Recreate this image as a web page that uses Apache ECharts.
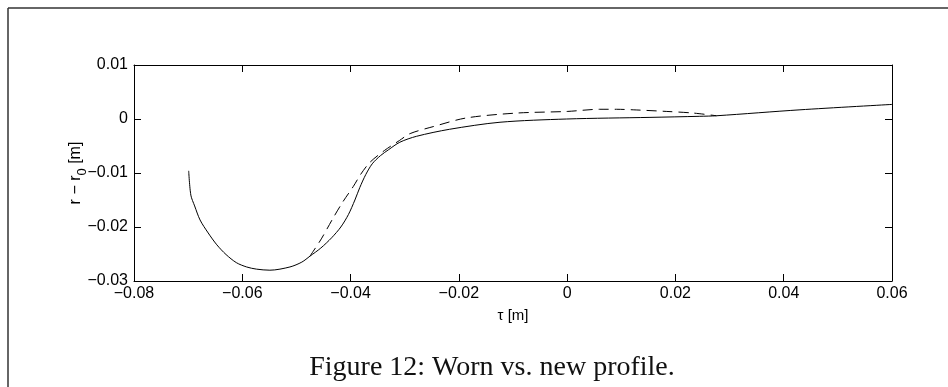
<!DOCTYPE html>
<html>
<head>
<meta charset="utf-8">
<script src="https://cdn.jsdelivr.net/npm/echarts@6/dist/echarts.min.js"></script>
<style>
  html, body { margin: 0; padding: 0; background: #fff; }
  #chart { width: 948px; height: 387px; }
</style>
</head>
<body>
<div id="chart"></div>
<script>
// new profile (solid)
var newX = [-0.0699, -0.0695, -0.0688, -0.0678, -0.0663, -0.0647, -0.0630, -0.0611, -0.0592, -0.0574,
            -0.0549, -0.0512, -0.0490, -0.0475, -0.0455, -0.0435, -0.0418, -0.0404, -0.0392, -0.0383,
            -0.0372, -0.0360, -0.0345, -0.0330, -0.0309, -0.0278, -0.0217, -0.0124, -0.0001, 0.0153,
            0.0245, 0.0276, 0.0430, 0.0600];
var newY = [-0.0096, -0.0141, -0.0161, -0.0187, -0.0211, -0.0233, -0.0251, -0.0266, -0.0274, -0.0278,
            -0.0280, -0.0274, -0.0265, -0.0254, -0.0239, -0.0220, -0.0200, -0.0177, -0.0150, -0.0127,
            -0.0103, -0.0083, -0.0068, -0.0057, -0.0043, -0.0032, -0.0019, -0.0006, 0.0000, 0.0003,
            0.0005, 0.0006, 0.0017, 0.0027];
// worn profile (dashed), only where it leaves the solid line
var wornX = [-0.0475, -0.0469, -0.0454, -0.0432, -0.0414, -0.0395, -0.0381, -0.0364, -0.0337, -0.0310,
             -0.0290, -0.0247, -0.0186, -0.0093, 0.0000, 0.0060, 0.0091, 0.0122, 0.0184, 0.0233, 0.0276];
var wornY = [-0.0254, -0.0245, -0.0222, -0.0183, -0.0153, -0.0125, -0.0102, -0.0080, -0.0058, -0.0040,
             -0.0027, -0.0014, 0.0002, 0.0011, 0.0014, 0.0018, 0.0018, 0.0017, 0.0014, 0.0011, 0.0006];

var xTicks = { min: -0.08, max: 0.06, step: 0.02 };
var yTicks = { min: -0.03, max: 0.01, step: 0.01 };

function pairs(xs, ys) {
  var out = [];
  for (var i = 0; i < xs.length; i++) out.push([xs[i], ys[i]]);
  return out;
}
function fmt(v) {
  if (Math.abs(v) < 1e-9) return '0';
  var s = Math.abs(v).toFixed(2);
  return (v < 0 ? '\u2212' : '') + s;
}

var font = 'Liberation Sans, Arial, sans-serif';
var axisBase = {
  axisLine: { show: true, onZero: false, lineStyle: { color: '#000', width: 1 } },
  axisTick: { show: true, inside: true, length: 7, lineStyle: { color: '#000', width: 1 } },
  splitLine: { show: false }
};

var myChart = echarts.init(document.getElementById('chart'));
var option = {
  animation: false,
  backgroundColor: '#fff',
  grid: { left: 134, top: 65, right: 56, bottom: 106, containLabel: false },
  xAxis: [
    Object.assign({
      type: 'value', position: 'bottom',
      min: xTicks.min, max: xTicks.max, interval: xTicks.step,
      name: '\u03c4 [m]', nameLocation: 'middle', nameGap: 27, nameMoveOverlap: false,
      nameTextStyle: { fontFamily: font, fontSize: 15, color: '#000' },
      axisLabel: { margin: 5, fontFamily: font, fontSize: 16, color: '#000', formatter: fmt }
    }, axisBase),
    Object.assign({
      type: 'value', position: 'top',
      min: xTicks.min, max: xTicks.max, interval: xTicks.step,
      axisLabel: { show: false }
    }, axisBase)
  ],
  yAxis: [
    Object.assign({
      type: 'value', position: 'left',
      min: yTicks.min, max: yTicks.max, interval: yTicks.step,
      name: '{a|r \u2212 r}{s|0}{a| [m]}', nameLocation: 'middle', nameGap: 45, nameMoveOverlap: false,
      nameTextStyle: {
        fontFamily: font, fontSize: 16, color: '#000',
        rich: {
          a: { fontFamily: font, fontSize: 16, color: '#000', lineHeight: 26, verticalAlign: 'middle' },
          s: { fontFamily: font, fontSize: 13, color: '#000', lineHeight: 26, verticalAlign: 'bottom' }
        }
      },
      axisLabel: { margin: 6, fontFamily: font, fontSize: 16, color: '#000', formatter: fmt }
    }, axisBase),
    Object.assign({
      type: 'value', position: 'right',
      min: yTicks.min, max: yTicks.max, interval: yTicks.step,
      axisLabel: { show: false }
    }, axisBase)
  ],
  graphic: [
    { type: 'line', shape: { x1: 8, y1: 8, x2: 948, y2: 8 }, style: { stroke: '#333', lineWidth: 1.5 } },
    { type: 'line', shape: { x1: 8, y1: 8, x2: 8, y2: 387 }, style: { stroke: '#333', lineWidth: 1.5 } },
    {
      type: 'text', x: 492, y: 368,
      style: {
        text: 'Figure 12: Worn vs. new profile.', font: '28px "Liberation Serif", "DejaVu Serif", serif',
        fill: '#111', textAlign: 'center', textVerticalAlign: 'middle'
      }
    }
  ],
  series: [
    {
      name: 'new', type: 'line', xAxisIndex: 0, yAxisIndex: 0,
      data: pairs(newX, newY), showSymbol: false, smooth: 0.3,
      lineStyle: { color: '#000', width: 1 }
    },
    {
      name: 'worn', type: 'line', xAxisIndex: 0, yAxisIndex: 0,
      data: pairs(wornX, wornY), showSymbol: false, smooth: 0.3,
      lineStyle: { color: '#000', width: 1, type: [10, 6] }
    }
  ]
};
myChart.setOption(option);
</script>
</body>
</html>
